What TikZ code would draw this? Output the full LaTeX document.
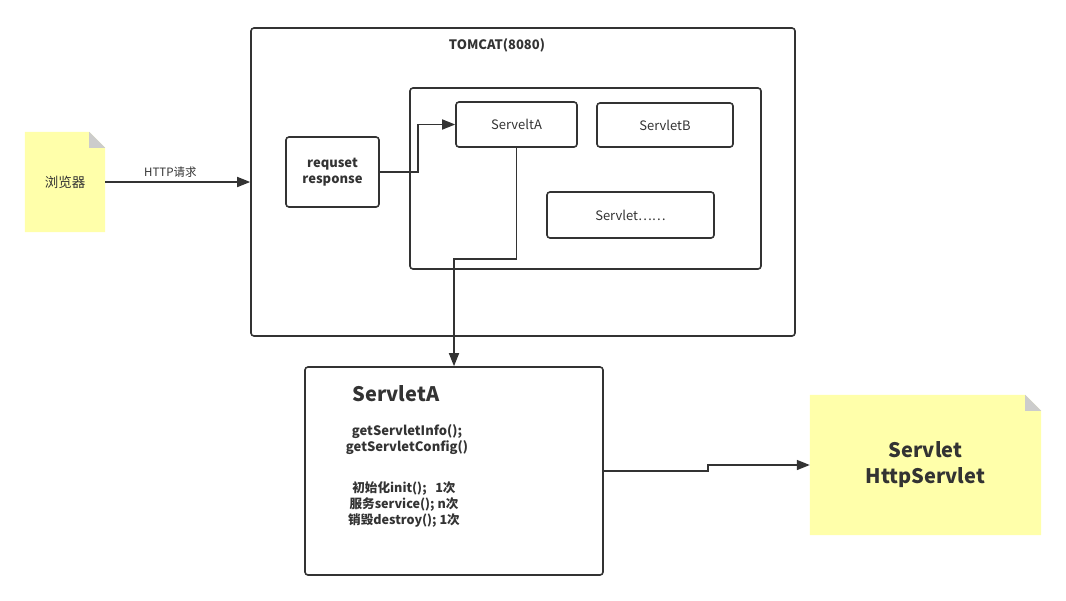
\documentclass[tikz,border=0pt]{standalone}
\usepackage{fontspec}
\setmainfont{Noto Sans CJK SC}
\usetikzlibrary{calc,arrows.meta}

\definecolor{ink}{HTML}{333333}
\definecolor{notefill}{HTML}{FFFFAA}
\definecolor{notefold}{HTML}{CCCCCC}

\begin{document}
\begin{tikzpicture}[
  x=1pt, y=-1pt,
  >={Triangle[length=13pt,width=10pt]},
  box/.style={draw=ink, line width=1.6pt, rounded corners=3pt, inner sep=0pt,
              text=ink, font=\fontsize{13}{15}\selectfont},
  note/.style={inner sep=0pt, text=ink},
  conn/.style={draw=ink, line width=1.6pt, ->},
]
\useasboundingbox (0,0) rectangle (1066,600);

% --- Browser (note) ---
\node[note, minimum width=80pt, minimum height=100pt] (browser) at (65,182) {};
\fill[notefill] (browser.south west) -- (browser.north west)
  -- ([xshift=-16pt]browser.north east) -- ([yshift=-16pt]browser.north east)
  -- (browser.south east) -- cycle;
\fill[notefold] ([xshift=-16pt]browser.north east) -- ([xshift=-16pt,yshift=-16pt]browser.north east)
  -- ([yshift=-16pt]browser.north east) -- cycle;
\node[text=ink, font=\fontsize{13.5}{15}\selectfont] at (browser) {浏览器};

% --- Tomcat container ---
\node[box, minimum width=544pt, minimum height=308pt] (tomcat) at (523,182) {};
\node[text=ink, font=\fontsize{13}{15}\bfseries] (tomcatlbl) at (497,45) {TOMCAT(8080)};

\node[box, minimum width=93pt, minimum height=70pt, align=center,
      font=\fontsize{13}{16}\bfseries] (req) at (332.5,172) {requset\\response};

\node[box, minimum width=351pt, minimum height=181pt] (inner) at (585.5,178.5) {};
\node[box, minimum width=121pt, minimum height=45pt] (sa) at (516.5,124.5) {ServeltA};
\node[box, minimum width=136pt, minimum height=44pt] (sb) at (665,125) {ServletB};
\node[box, minimum width=167pt, minimum height=46pt] (sdots) at (630.5,215) {Servlet……};

% --- ServletA detail ---
\node[box, minimum width=298pt, minimum height=208pt] (big) at (454,471) {};
\node[text=ink, font=\fontsize{20}{24}\bfseries] (bigtitle) at (396,394) {ServletA};
\node[text=ink, align=center, font=\fontsize{13}{16}\bfseries] (info) at (407,440)
  {getServletInfo();\\getServletConfig()};
\node[text=ink, align=center, font=\fontsize{12.6}{16}\bfseries] (life) at (404,504)
  {初始化init();\ \ \ 1次\\服务service(); n次\\销毁destroy(); 1次};

% --- Servlet / HttpServlet (note) ---
\node[note, minimum width=231pt, minimum height=140pt] (api) at (925.5,465) {};
\fill[notefill] (api.south west) -- (api.north west)
  -- ([xshift=-16pt]api.north east) -- ([yshift=-16pt]api.north east)
  -- (api.south east) -- cycle;
\fill[notefold] ([xshift=-16pt]api.north east) -- ([xshift=-16pt,yshift=-16pt]api.north east)
  -- ([yshift=-16pt]api.north east) -- cycle;
\node[text=ink, align=center, font=\fontsize{20}{26}\bfseries] at (api) {Servlet\\HttpServlet};

% --- Connectors ---
\draw[conn] (browser.east) -- (browser.east -| tomcat.west)
  node[pos=0.45, above, text=ink, font=\fontsize{11.5}{13}\selectfont] {HTTP请求};
\draw[conn] (req.east) -- ++(38,0) |- (sa.west);
\draw[conn] (sa.south) -- ++(0,111) -| (big.north);
\draw[conn] (big.east) -- ++(104,0) |- (api.west);

\end{tikzpicture}
\end{document}
